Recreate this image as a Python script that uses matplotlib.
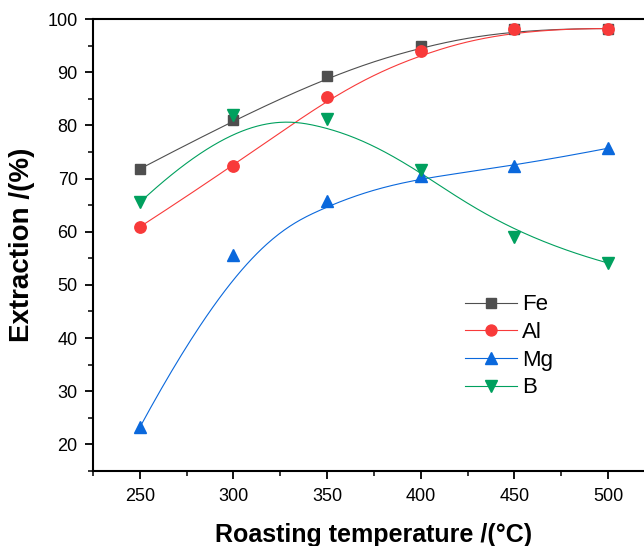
import numpy as np
import matplotlib
matplotlib.use("Agg")
import matplotlib.pyplot as plt
from matplotlib.ticker import MultipleLocator

plt.rcParams['font.family'] = ['Liberation Sans', 'DejaVu Sans']

temp = [250, 300, 350, 400, 450, 500]
fe = [71.8, 81.0, 89.2, 95.0, 98.2, 98.2]
al = [60.9, 72.3, 85.4, 93.9, 98.2, 98.2]
mg = [23.2, 55.7, 65.7, 70.4, 72.3, 75.7]
b = [65.5, 81.9, 81.2, 71.6, 59.0, 54.1]

names = ['Fe', 'Al', 'Mg', 'B']
colors = ['#4f4f4f', '#f83a3a', '#0a68dc', '#00a05e']
markers = ['s', 'o', '^', 'v']
msizes = [7.8, 8.2, 9.2, 9.2]


def bspline(xs, ys, n=300, k=3):
    # clamped uniform cubic B-spline, data points used as control points
    P = np.column_stack([xs, ys]).astype(float)
    m = len(P)
    knots = np.concatenate([np.zeros(k), np.linspace(0, 1, m - k + 1), np.ones(k)])
    t = np.linspace(0, 1, n)
    t[-1] -= 1e-9
    N = np.zeros((n, len(knots) - 1))
    for i in range(len(knots) - 1):
        N[:, i] = (knots[i] <= t) & (t < knots[i + 1])
    for d in range(1, k + 1):
        Nn = np.zeros((n, len(knots) - 1 - d))
        for i in range(len(knots) - 1 - d):
            a = knots[i + d] - knots[i]
            c = knots[i + d + 1] - knots[i + 1]
            term = np.zeros(n)
            if a > 0:
                term += (t - knots[i]) / a * N[:, i]
            if c > 0:
                term += (knots[i + d + 1] - t) / c * N[:, i + 1]
            Nn[:, i] = term
        N = Nn
    C = N @ P
    return C[:, 0], C[:, 1]


fig = plt.figure(figsize=(6.44, 5.46), dpi=100)
ax = fig.add_axes([0.1444, 0.1374, 1.017 - 0.1444, 0.9652 - 0.1374])

for i, ys in enumerate([fe, al, mg, b]):
    cx, cy = bspline(temp, ys)
    ax.plot(cx, cy, color=colors[i], lw=0.8, zorder=2)
    ax.plot(temp, ys, linestyle='none', marker=markers[i], ms=msizes[i],
            color=colors[i], zorder=3)
    # legend proxy
    ax.plot([], [], color=colors[i], lw=0.8, marker=markers[i], ms=msizes[i] - 0.3,
            label=names[i])

ax.set_xlim(225, 525)
ax.set_ylim(15, 100)
ax.xaxis.set_major_locator(MultipleLocator(50))
ax.xaxis.set_minor_locator(MultipleLocator(25))
ax.yaxis.set_major_locator(MultipleLocator(10))
ax.yaxis.set_minor_locator(MultipleLocator(5))
ax.spines['right'].set_visible(False)
for s in ['left', 'bottom', 'top']:
    ax.spines[s].set_linewidth(1.5)
ax.tick_params(which='major', direction='out', length=6, width=1.3, labelsize=13)
ax.tick_params(which='minor', direction='out', length=3.5, width=1.1)
ax.tick_params(axis='x', pad=6)
ax.tick_params(axis='y', pad=5)

ax.set_xlabel('Roasting temperature /(°C)', fontsize=18, fontweight='bold', labelpad=13)
ax.set_ylabel('Extraction /(%)', fontsize=20, fontweight='bold', labelpad=9)

ax.legend(loc='upper left', bbox_to_anchor=(0.722, 0.461), bbox_transform=fig.transFigure,
          frameon=False, fontsize=16, handlelength=2.35, labelspacing=0.3,
          handletextpad=0.2, borderpad=0, borderaxespad=0)

fig.savefig('out.png', dpi=100)
